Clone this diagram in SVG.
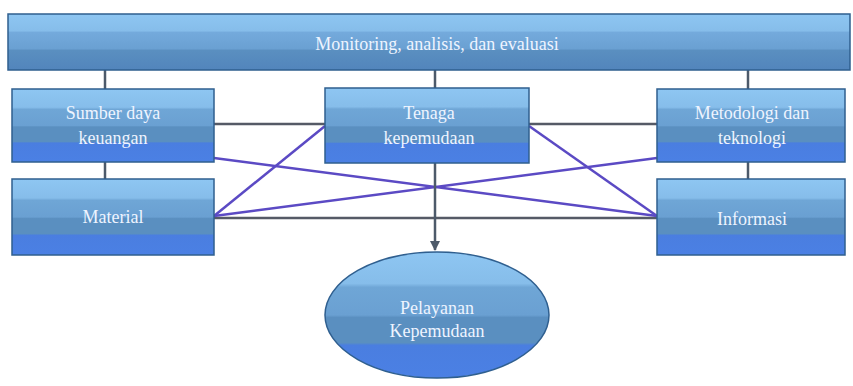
<svg xmlns="http://www.w3.org/2000/svg" width="853" height="386" viewBox="0 0 853 386">
<style>
.box{fill:url(#g);stroke:#2f5f8f;stroke-width:1.5}
.bar{fill:url(#g2);stroke:#2f5f8f;stroke-width:1.5}
.t{font-family:"Liberation Serif",serif;font-size:18px;fill:#eef4ff;text-anchor:middle}
.c{fill:none;stroke-width:2.5}
.gr{stroke:#555a66}
.pu{stroke:#5b4ac4}
.v{stroke:#4d5a6a;stroke-width:2.5}
</style>
<defs>
<linearGradient id="g" x1="0" y1="0" x2="0" y2="1">
<stop offset="0" stop-color="#8ec6f2"/>
<stop offset="0.25" stop-color="#86bdea"/>
<stop offset="0.28" stop-color="#6fa6d6"/>
<stop offset="0.5" stop-color="#6aa0d2"/>
<stop offset="0.52" stop-color="#5a8fc0"/>
<stop offset="0.72" stop-color="#5a8fc0"/>
<stop offset="0.74" stop-color="#4a7ee0"/>
<stop offset="1" stop-color="#4b80e4"/>
</linearGradient>
<linearGradient id="g2" x1="0" y1="0" x2="0" y2="1">
<stop offset="0" stop-color="#8ec6f2"/>
<stop offset="0.3" stop-color="#86bdea"/>
<stop offset="0.33" stop-color="#74aadc"/>
<stop offset="0.62" stop-color="#6aa0d2"/>
<stop offset="0.65" stop-color="#5a8fc0"/>
<stop offset="1" stop-color="#5285bc"/>
</linearGradient>
<marker id="ah" viewBox="0 0 10 10" refX="9" refY="5" markerWidth="4" markerHeight="4" orient="auto">
<path d="M0,0 L10,5 L0,10 z" fill="#4d5a6a"/>
</marker>
</defs>
<g id="connectors">
<line class="v" x1="105" y1="70" x2="105" y2="89"/>
<line class="v" x1="435" y1="70" x2="435" y2="88"/>
<line class="v" x1="748" y1="70" x2="748" y2="89"/>
<line class="v" x1="105" y1="162" x2="105" y2="179"/>
<line class="v" x1="748" y1="162" x2="748" y2="179"/>
<line class="c gr" x1="214" y1="124" x2="325" y2="124"/>
<line class="c gr" x1="529" y1="124" x2="657" y2="124"/>
<line class="c gr" x1="214" y1="218" x2="657" y2="218"/>
<line class="c pu" x1="214" y1="158" x2="657" y2="216"/>
<line class="c pu" x1="214" y1="216" x2="325" y2="126"/>
<line class="c pu" x1="214" y1="216" x2="657" y2="158"/>
<line class="c pu" x1="529" y1="126" x2="657" y2="216"/>
<line class="v" x1="435" y1="163" x2="435" y2="250" marker-end="url(#ah)"/>
</g>
<g id="top">
<rect class="bar" x="8" y="14" width="842" height="56"/>
<text class="t" x="437" y="50">Monitoring, analisis, dan evaluasi</text>
</g>
<g id="sumber">
<rect class="box" x="12" y="89" width="202" height="73"/>
<text class="t" x="113" y="119">Sumber daya</text>
<text class="t" x="113" y="144">keuangan</text>
</g>
<g id="material">
<rect class="box" x="12" y="179" width="202" height="76"/>
<text class="t" x="113" y="223">Material</text>
</g>
<g id="tenaga">
<rect class="box" x="325" y="88" width="204" height="75"/>
<text class="t" x="429" y="119">Tenaga</text>
<text class="t" x="429" y="144">kepemudaan</text>
</g>
<g id="metodologi">
<rect class="box" x="657" y="89" width="188" height="73"/>
<text class="t" x="752" y="119">Metodologi dan</text>
<text class="t" x="752" y="144">teknologi</text>
</g>
<g id="informasi">
<rect class="box" x="657" y="179" width="188" height="76"/>
<text class="t" x="752" y="225">Informasi</text>
</g>
<g id="pelayanan">
<ellipse class="box" cx="437" cy="315" rx="112" ry="63"/>
<text class="t" x="437" y="314">Pelayanan</text>
<text class="t" x="437" y="337">Kepemudaan</text>
</g>
</svg>
